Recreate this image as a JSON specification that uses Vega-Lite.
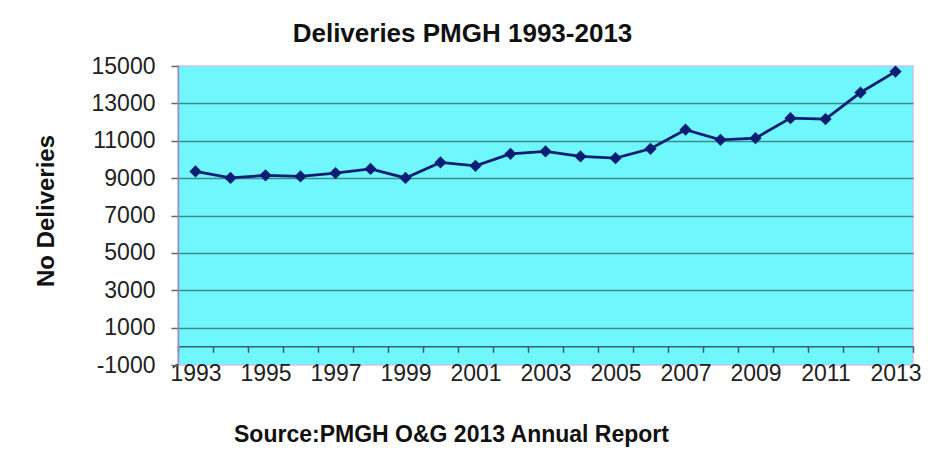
{
  "$schema": "https://vega.github.io/schema/vega-lite/v6.json",
  "width": 735,
  "height": 299,
  "autosize": {"type": "none"},
  "padding": {"left": 178, "top": 66, "right": 17, "bottom": 90},
  "background": "white",
  "title": {
    "text": "Deliveries PMGH 1993-2013",
    "fontSize": 26,
    "fontWeight": "bold",
    "color": "#111111",
    "anchor": "middle",
    "dx": -83,
    "offset": -13,
    "baseline": "alphabetic"
  },
  "data": {
    "values": [
      {"year": 1993, "deliveries": 9360},
      {"year": 1994, "deliveries": 9010},
      {"year": 1995, "deliveries": 9150},
      {"year": 1996, "deliveries": 9090},
      {"year": 1997, "deliveries": 9270},
      {"year": 1998, "deliveries": 9490},
      {"year": 1999, "deliveries": 9010},
      {"year": 2000, "deliveries": 9840},
      {"year": 2001, "deliveries": 9660},
      {"year": 2002, "deliveries": 10300},
      {"year": 2003, "deliveries": 10430},
      {"year": 2004, "deliveries": 10160},
      {"year": 2005, "deliveries": 10070},
      {"year": 2006, "deliveries": 10570},
      {"year": 2007, "deliveries": 11590},
      {"year": 2008, "deliveries": 11050},
      {"year": 2009, "deliveries": 11140},
      {"year": 2010, "deliveries": 12210},
      {"year": 2011, "deliveries": 12160},
      {"year": 2012, "deliveries": 13580},
      {"year": 2013, "deliveries": 14700}
    ]
  },
  "mark": {
    "type": "line",
    "color": "#0a1f73",
    "strokeWidth": 2.8,
    "point": {"shape": "diamond", "size": 150, "filled": true, "color": "#0a1f73", "opacity": 1}
  },
  "encoding": {
    "x": {
      "field": "year",
      "type": "ordinal",
      "bandPosition": 0.5,
      "scale": {"type": "band", "paddingInner": 0, "paddingOuter": 0},
      "axis": {
        "title": "Source:PMGH O&G 2013 Annual Report",
        "titleFontSize": 23,
        "titleFontWeight": "bold",
        "titleColor": "#111111",
        "titleX": 273,
        "titleY": 95,
        "titleBaseline": "alphabetic",
        "titleAlign": "center",
        "labelAngle": 0,
        "labelFontSize": 23,
        "labelColor": "#222222",
        "labelPadding": 10,
        "labelExpr": "datum.value % 2 == 1 ? datum.label : ''",
        "labelOverlap": false,
        "tickBand": "extent",
        "tickSize": 6,
        "tickColor": "#34616a",
        "tickWidth": 1.5,
        "domainColor": "#34616a",
        "domainWidth": 1.5,
        "offset": -18.7,
        "grid": false
      }
    },
    "y": {
      "field": "deliveries",
      "type": "quantitative",
      "scale": {"domain": [-1000, 15000], "nice": false, "zero": false},
      "axis": {
        "title": "No Deliveries",
        "titleFontSize": 24,
        "titleFontWeight": "bold",
        "titleColor": "#111111",
        "titleX": -125,
        "titleY": 144.5,
        "titleBaseline": "alphabetic",
        "titleAlign": "center",
        "titleAngle": -90,
        "values": [-1000, 1000, 3000, 5000, 7000, 9000, 11000, 13000, 15000],
        "labelExpr": "datum.value < 0 ? '-' + format(-datum.value, 'd') : format(datum.value, 'd')",
        "labelFontSize": 23,
        "labelColor": "#222222",
        "labelPadding": 16,
        "labelFlush": false,
        "labelOverlap": false,
        "tickSize": 7,
        "tickColor": "#666666",
        "tickWidth": 1.5,
        "domainColor": "#9a8fc0",
        "domainWidth": 1.5,
        "grid": true,
        "gridColor": {
          "condition": {"test": "datum.value == -1000 || datum.value == 15000", "value": "transparent"},
          "value": "#3f8a8c"
        },
        "gridWidth": 1.5
      }
    }
  },
  "config": {
    "font": "Liberation Sans",
    "view": {"fill": "#6ff7fd", "stroke": "#c9c2ee", "strokeWidth": 1.5}
  }
}
